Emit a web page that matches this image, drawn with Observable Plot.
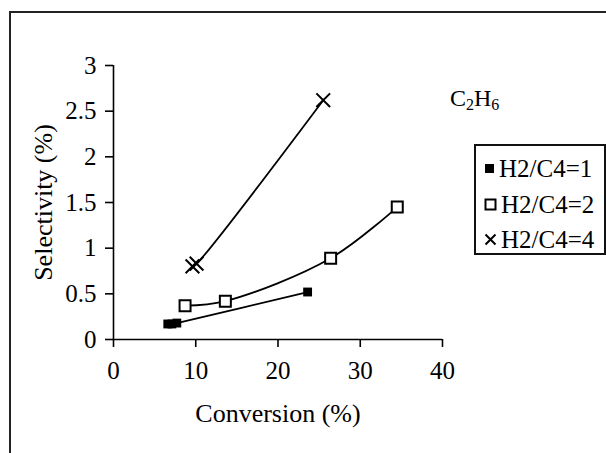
<!DOCTYPE html>
<html>
<head>
<meta charset="utf-8">
<script src="https://cdn.jsdelivr.net/npm/d3@7"></script>
<script src="https://cdn.jsdelivr.net/npm/@observablehq/plot@0.6"></script>
<style>
  html, body { margin: 0; padding: 0; background: #fff; }
  #wrap { position: relative; width: 606px; height: 453px; overflow: hidden; font-family: "Liberation Serif", "Times New Roman", serif; color: #000; }
  #chart svg text { font-family: "Liberation Serif", "Times New Roman", serif !important; }
  #chart svg g[aria-label="x-axis tick label"], #chart svg g[aria-label="y-axis tick label"] { font-size: 25px !important; font-variant: normal !important; }
  #frame { position: absolute; left: 9px; top: 11px; width: 600px; height: 470px; border: 2px solid #222; box-sizing: border-box; }
  #chem { position: absolute; left: 450px; top: 86px; font-size: 24px; line-height: 1; }
  #chem sub { font-size: 16px; vertical-align: -4px; line-height: 0; }
  #legend { position: absolute; left: 474px; top: 144px; width: 132px; height: 111px; border: 2px solid #111; box-sizing: border-box; background: #fff; }
  .row { position: absolute; left: 8px; font-size: 25px; line-height: 1; white-space: nowrap; display: flex; align-items: center; }
  .row svg { margin-right: 4px; }
</style>
</head>
<body>
<div id="wrap">
  <div id="chart"></div>
  <div id="frame"></div>
  <div id="chem">C<sub>2</sub>H<sub>6</sub></div>
  <div id="legend"></div>
</div>
<script>
// Data
const seriesNames = ["H2/C4=1", "H2/C4=2", "H2/C4=4"];
const s1x = [6.6, 7.1, 7.7, 23.6];
const s1y = [0.17, 0.17, 0.18, 0.52];
const s2x = [8.7, 13.6, 26.4, 34.5];
const s2y = [0.37, 0.42, 0.89, 1.45];
const s4x = [9.6, 10.1, 25.5];
const s4y = [0.80, 0.83, 2.62];
const xTicks = [0, 10, 20, 30, 40];
const yTicks = [0, 0.5, 1, 1.5, 2, 2.5, 3];

const xs = [s1x, s2x, s4x], ys = [s1y, s2y, s4y];
const rows = [];
seriesNames.forEach((name, i) => xs[i].forEach((x, j) => rows.push({series: name, x, y: ys[i][j]})));
const bySeries = n => rows.filter(d => d.series === n);

const serif = "Liberation Serif";
const chart = Plot.plot({
  width: 606,
  height: 453,
  marginLeft: 113,
  marginRight: 164,
  marginTop: 65,
  marginBottom: 114,
  style: {fontFamily: serif, fontSize: "25px", color: "#000", background: "transparent"},
  x: {domain: [0, 40], ticks: xTicks},
  y: {domain: [0, 3], ticks: yTicks},
  marks: [
    Plot.ruleY([0], {stroke: "#000", strokeWidth: 1.6}),
    Plot.ruleX([0], {stroke: "#000", strokeWidth: 1.6}),
    Plot.axisX({ticks: xTicks, tickSize: 8, tickPadding: 14, strokeWidth: 1.6, label: null, fontSize: 25, fontFamily: serif, tickFormat: d => String(d)}),
    Plot.axisY({ticks: yTicks, tickSize: 8, tickPadding: 9, strokeWidth: 1.6, label: null, fontSize: 25, fontFamily: serif, tickFormat: d => String(d)}),
    Plot.line(rows, {x: "x", y: "y", z: "series", curve: "catmull-rom", stroke: "#000", strokeWidth: 1.8}),
    Plot.dot(bySeries(seriesNames[0]), {x: "x", y: "y", symbol: "square", r: 5, fill: "#000", stroke: "none"}),
    Plot.dot(bySeries(seriesNames[1]), {x: "x", y: "y", symbol: "square", r: 6.2, fill: "#fff", stroke: "#000", strokeWidth: 2}),
    Plot.dot(bySeries(seriesNames[2]), {x: "x", y: "y", symbol: "times", r: 6.3, stroke: "#000", strokeWidth: 2}),
    Plot.text(["Conversion (%)"], {frameAnchor: "bottom", dy: 74, lineAnchor: "middle", fontSize: 26, fontFamily: serif}),
    Plot.text(["Selectivity (%)"], {frameAnchor: "left", dx: -70, rotate: -90, lineAnchor: "middle", textAnchor: "middle", fontSize: 26, fontFamily: serif})
  ]
});
document.getElementById("chart").appendChild(chart);

// Legend
const legend = document.getElementById("legend");
const symbols = [
  '<svg width="11" height="11"><rect x="1" y="1" width="9" height="9" fill="#000"/></svg>',
  '<svg width="13" height="13"><rect x="1.5" y="1.5" width="10" height="10" fill="#fff" stroke="#000" stroke-width="2"/></svg>',
  '<svg width="13" height="13"><path d="M1.5,1.5L11.5,11.5M11.5,1.5L1.5,11.5" stroke="#000" stroke-width="2"/></svg>'
];
const tops = [10, 46, 81];
seriesNames.forEach((n, i) => {
  const r = document.createElement("div");
  r.className = "row";
  r.style.top = tops[i] + "px";
  r.innerHTML = symbols[i] + "<span>" + n + "</span>";
  legend.appendChild(r);
});
</script>
</body>
</html>
